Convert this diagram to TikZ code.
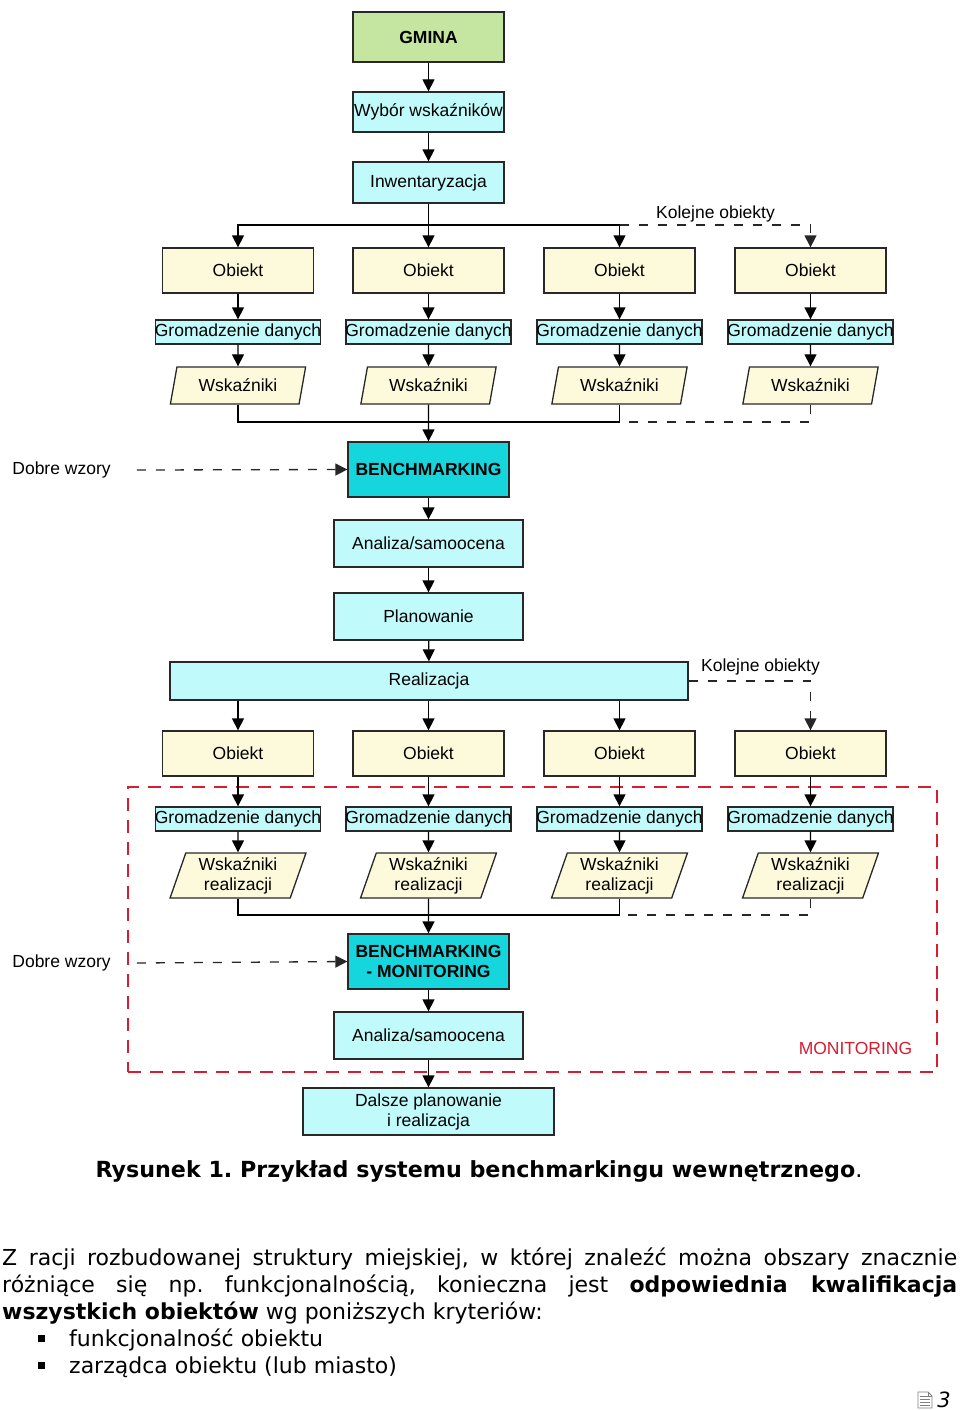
\documentclass[tikz,border=0pt]{standalone}
\usepackage{fontspec}
\setmainfont{Liberation Sans}
\newfontfamily\dejavu{DejaVu Sans}
\usetikzlibrary{arrows.meta,shapes.geometric}
\definecolor{bordc}{RGB}{40,40,40}
\definecolor{gmgreen}{RGB}{196,230,160}
\definecolor{lcyan}{RGB}{192,250,250}
\definecolor{cream}{RGB}{252,250,218}
\definecolor{scyan}{RGB}{20,214,220}
\definecolor{monred}{RGB}{212,30,50}
\frenchspacing
\begin{document}
\begin{tikzpicture}[x=1pt,y=-1pt,
  dfont/.style={font=\fontsize{17.5}{20}\selectfont},
  box/.style={draw=bordc,line width=1.3pt,inner sep=0pt,dfont,align=center},
  gm/.style={box,fill=gmgreen,font=\fontsize{17.5}{20}\selectfont\bfseries,minimum width=151pt,minimum height=50pt},
  cy/.style={box,fill=lcyan,minimum width=189pt,minimum height=47pt},
  bm/.style={box,fill=scyan,font=\fontsize{17.5}{20}\selectfont\bfseries,minimum width=161pt,minimum height=55pt},
  obj/.style={box,fill=cream,minimum width=151pt,minimum height=45pt},
  gro/.style={box,fill=lcyan,minimum width=165pt,minimum height=24pt},
  wsk/.style={box,fill=cream,shape=trapezium,trapezium left angle=72,trapezium right angle=108,
    trapezium stretches=true,minimum width=136pt,minimum height=37pt},
  arr/.style={line width=1.3pt,draw=black,-{Triangle[width=12pt,length=12pt]}},
  conn/.style={line width=1.3pt,draw=black},
  dsh/.style={line width=1.3pt,draw=black!85,dash pattern=on 9pt off 10pt},
  dsharr/.style={dsh,-{Triangle[width=12pt,length=12pt]}},
  lbl/.style={dfont,inner sep=0pt},
  body/.style={font=\dejavu\fontsize{22}{27}\selectfont,inner sep=0pt},
  bul/.style={fill=black,inner sep=0pt,minimum size=7pt}]
\useasboundingbox (0,0) rectangle (960,1410);
\fill[white] (0,0) rectangle (960,1410);

% monitoring frame
\node[draw=monred,line width=2pt,dash pattern=on 13pt off 9pt,minimum width=809pt,minimum height=285pt,inner sep=0pt] (mon) at (532.5,929.5) {};
\node[lbl,text=monred] (monl) at (855.5,1048) {MONITORING};

% top chain
\node[gm] (gmina) at (428.5,37) {GMINA};
\node[cy,minimum width=151pt,minimum height=40pt] (wyb) at (428.5,112) {\makebox[145pt]{Wybór wskaźników}};
\node[cy,minimum width=151pt,minimum height=41pt] (inw) at (428.5,182.5) {Inwentaryzacja};

% row 1
\foreach \i/\x in {1/238,2/428.5,3/619.5,4/810.5}{
  \node[obj] (o\i) at (\x,270.5) {Obiekt};
  \node[gro] (g\i) at (\x,332) {\makebox[158pt]{Gromadzenie danych}};
  \node[wsk] (w\i) at (\x,385.5) {Wskaźniki};
}
\coordinate (j1) at (428.5,225);
\coordinate (j2) at (428.5,422);
\node[lbl] (kol1) at (715.5,214) {Kolejne obiekty};

\node[bm] (bench) at (428.5,469.5) {BENCHMARKING};
\node[lbl] (dw1) at (61.5,470) {Dobre wzory};
\node[cy] (an1) at (428.5,543.5) {Analiza/samoocena};
\node[cy] (plan) at (428.5,616.5) {Planowanie};
\node[cy,minimum width=518pt,minimum height=38pt] (real) at (429,681) {Realizacja};
\node[lbl] (kol2) at (760.5,667) {Kolejne obiekty};

% row 2
\foreach \i/\x in {5/238,6/428.5,7/619.5,8/810.5}{
  \node[obj] (o\i) at (\x,753.5) {Obiekt};
  \node[gro] (g\i) at (\x,819) {\makebox[158pt]{Gromadzenie danych}};
  \node[wsk,minimum height=45pt] (w\i) at (\x,875.5) {Wskaźniki\\realizacji};
}
\coordinate (j3) at (428.5,915);

\node[bm] (bench2) at (428.5,961.5) {BENCHMARKING\\- MONITORING};
\node[lbl] (dw2) at (61.5,963) {Dobre wzory};
\node[cy] (an2) at (428.5,1035.5) {Analiza/samoocena};
\node[cy,minimum width=251pt] (dal) at (428.5,1111.5) {Dalsze planowanie\\i realizacja};

% connectors
\draw[arr] (gmina) -- (wyb);
\draw[arr] (wyb) -- (inw);
\draw[arr] (inw) -- (o2);
\draw[arr] (j1) -| (o1.north);
\draw[arr] (j1) -| (o3.north);
\draw[dsharr] (o3.north |- j1) -| (o4.north);
\foreach \i in {1,...,8}{
  \draw[arr] (o\i) -- (g\i);
  \draw[arr] (g\i) -- (w\i);
}
\draw[conn] (w1.south) |- (j2);
\draw[conn] (w3.south) |- (j2);
\draw[dsh] (w4.south) |- (w3.south |- j2);
\draw[arr] (w2.south) -- (bench);
\draw[dsharr] ([xshift=26pt]dw1.east) -- (bench.west);
\draw[arr] (bench) -- (an1);
\draw[arr] (an1) -- (plan);
\draw[arr] (plan) -- (real);
\draw[arr] (real.south -| o5) -- (o5.north);
\draw[arr] (real.south -| o6) -- (o6.north);
\draw[arr] (real.south -| o7) -- (o7.north);
\draw[dsharr] (real.east) -| (o8.north);
\draw[conn] (w5.south) |- (j3);
\draw[conn] (w7.south) |- (j3);
\draw[dsh] (w8.south) |- (w7.south |- j3);
\draw[arr] (w6.south) -- (bench2);
\draw[dsharr] ([xshift=26pt]dw2.east) -- (bench2.west);
\draw[arr] (bench2) -- (an2);
\draw[arr] (an2) -- (dal);

% caption and text
\node[anchor=base,inner sep=0pt,font=\dejavu\bfseries\fontsize{22.2}{26}\selectfont] (cap) at (479,1177) {Rysunek 1. Przykład systemu benchmarkingu wewnętrznego\textmd{.}};
\node[body,anchor=base west] (l1) at (2,1265) {\makebox[955pt][s]{Z racji rozbudowanej struktury miejskiej, w której znaleźć można obszary znacznie}};
\node[body,anchor=base west] (l2) at (2,1292) {\makebox[955pt][s]{różniące się np. funkcjonalnością, konieczna jest \textbf{odpowiednia kwalifikacja}}};
\node[body,anchor=base west] (l3) at (2,1319) {\textbf{wszystkich obiektów} wg poniższych kryteriów:};
\node[bul] (b1) at (41.5,1338.5) {};
\node[body,anchor=base west] (t1) at (69,1346) {funkcjonalność obiektu};
\node[bul] (b2) at (41.5,1365.5) {};
\node[body,anchor=base west] (t2) at (69,1373) {zarządca obiektu (lub miasto)};

% page number
\node[anchor=base east,inner sep=0pt,font=\dejavu\itshape\fontsize{21}{24}\selectfont] (pg) at (951,1407) {3};
\draw[gray,line width=0.9pt,fill=white] (918,1392) -- (928,1392) -- (932,1396) -- (932,1408) -- (918,1408) -- cycle;
\draw[gray,line width=0.7pt] (928,1392) -- (928,1396) -- (932,1396);
\foreach \yy in {1396,1399,1402,1405}{\draw[gray,line width=0.7pt] (920,\yy) -- (930,\yy);}
\end{tikzpicture}
\end{document}
